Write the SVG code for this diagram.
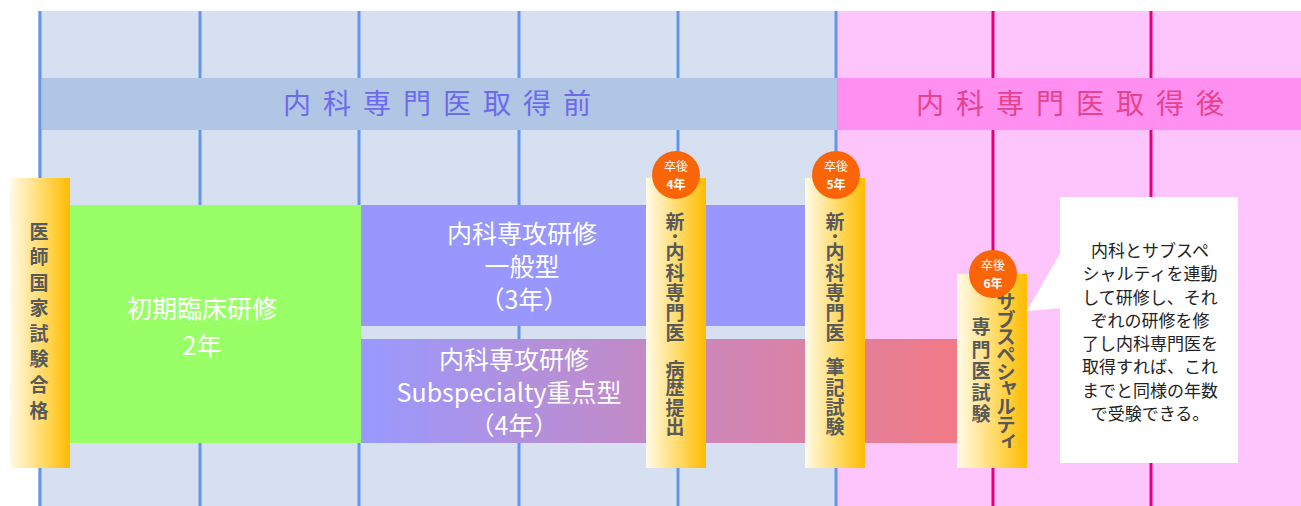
<svg xmlns="http://www.w3.org/2000/svg" width="1301" height="506" viewBox="0 0 1301 506">
<style>
.jp{font-family:"Noto Sans CJK JP","Noto Sans",sans-serif}
.band{font-size:28px;letter-spacing:12px;text-anchor:middle}
.box{fill:#fff;font-size:25px;text-anchor:middle}
.pil{fill:#595959;font-size:19px;font-weight:bold;text-anchor:middle}
.badge{fill:#fff;font-size:12px;text-anchor:middle}
.call{fill:#222;font-size:17px;text-anchor:middle}
.bl{stroke:#6495ed;stroke-width:3}
.pl{stroke:#e4007f;stroke-width:3}
</style>
<defs>
<linearGradient id="gold" x1="0" y1="0" x2="1" y2="0">
<stop offset="0" stop-color="#fffbe8"/>
<stop offset="0.6" stop-color="#ffd75a"/>
<stop offset="1" stop-color="#ffbc00"/>
</linearGradient>
<linearGradient id="sub" gradientUnits="userSpaceOnUse" x1="361" y1="0" x2="957" y2="0">
<stop offset="0" stop-color="#9999ff"/>
<stop offset="1" stop-color="#f27a86"/>
</linearGradient>
</defs>
<rect width="1301" height="506" fill="#fff"/>
<g id="background">
<rect x="38" y="11" width="799" height="495" fill="#d6e0f1"/>
<rect x="837" y="11" width="464" height="495" fill="#fdc5fb"/>
<line class="bl" x1="40" y1="11" x2="40" y2="506"/>
<line class="bl" x1="200" y1="11" x2="200" y2="506"/>
<line class="bl" x1="359" y1="11" x2="359" y2="506"/>
<line class="bl" x1="519" y1="11" x2="519" y2="506"/>
<line class="bl" x1="678" y1="11" x2="678" y2="506"/>
<line class="bl" x1="836" y1="11" x2="836" y2="506"/>
<line class="pl" x1="993" y1="11" x2="993" y2="506"/>
<line class="pl" x1="1151" y1="11" x2="1151" y2="506"/>
</g>
<g id="band-before">
<rect x="42" y="78" width="795" height="52" fill="#b1c5e5"/>
<text class="jp band" x="443" y="114" fill="#6b6bec">内科専門医取得前</text>
</g>
<g id="band-after">
<rect x="838" y="78" width="463" height="52" fill="#ff8ff0"/>
<text class="jp band" x="1076" y="114" fill="#e6438f">内科専門医取得後</text>
</g>
<g id="initial">
<rect x="70" y="205" width="291" height="238" fill="#99ff66"/>
<text class="jp box" x="202" y="318" font-size="29">初期臨床研修</text>
<text class="jp box" x="202" y="355" font-size="27">2年</text>
</g>
<g id="general">
<rect x="361" y="205" width="446" height="121" fill="#9797fd"/>
<text class="jp box" x="522" y="243">内科専攻研修</text>
<text class="jp box" x="522" y="276">一般型</text>
<text class="jp box" x="524" y="309" font-size="24">（3年）</text>
</g>
<g id="subspecialty">
<rect x="361" y="339" width="596" height="104" fill="url(#sub)"/>
<text class="jp box" x="514" y="369">内科専攻研修</text>
<text class="jp box" x="509" y="402" font-size="24">Subspecialty重点型</text>
<text class="jp box" x="514" y="435" font-size="24">（4年）</text>
</g>
<g id="pillar-license">
<rect x="10" y="178" width="60" height="290" fill="url(#gold)"/>
<text class="jp pil"><tspan x="39" y="239">医</tspan><tspan x="39" y="264">師</tspan><tspan x="39" y="290">国</tspan><tspan x="39" y="315">家</tspan><tspan x="39" y="341">試</tspan><tspan x="39" y="366">験</tspan><tspan x="39" y="392">合</tspan><tspan x="39" y="418">格</tspan></text>
</g>
<g id="pillar-4">
<rect x="646" y="178" width="60" height="290" fill="url(#gold)"/>
<text class="jp pil"><tspan x="675" y="229">新</tspan><tspan x="675" y="244">･</tspan><tspan x="675" y="259">内</tspan><tspan x="675" y="280">科</tspan><tspan x="675" y="300">専</tspan><tspan x="675" y="320">門</tspan><tspan x="675" y="340">医</tspan><tspan x="675" y="377">病</tspan><tspan x="675" y="395">歴</tspan><tspan x="675" y="415">提</tspan><tspan x="675" y="434">出</tspan></text>
<circle cx="676" cy="175" r="24" fill="#fa6508"/>
<text class="jp badge" x="676" y="171">卒後</text>
<text class="jp badge" x="676" y="189" font-weight="bold">4年</text>
</g>
<g id="pillar-5">
<rect x="805" y="178" width="60" height="290" fill="url(#gold)"/>
<text class="jp pil"><tspan x="835" y="229">新</tspan><tspan x="835" y="244">･</tspan><tspan x="835" y="259">内</tspan><tspan x="835" y="280">科</tspan><tspan x="835" y="300">専</tspan><tspan x="835" y="320">門</tspan><tspan x="835" y="340">医</tspan><tspan x="835" y="374">筆</tspan><tspan x="835" y="395">記</tspan><tspan x="835" y="415">試</tspan><tspan x="835" y="434">験</tspan></text>
<circle cx="836" cy="175" r="24" fill="#fa6508"/>
<text class="jp badge" x="836" y="171">卒後</text>
<text class="jp badge" x="836" y="189" font-weight="bold">5年</text>
</g>
<g id="pillar-6">
<rect x="957" y="274" width="70" height="194" fill="url(#gold)"/>
<text class="jp pil" font-size="18" font-weight="normal"><tspan x="1006" y="309">サ</tspan><tspan x="1006" y="327">ブ</tspan><tspan x="1006" y="344">ス</tspan><tspan x="1006" y="362">ペ</tspan><tspan x="1006" y="379">シ</tspan><tspan x="1009" y="393">ャ</tspan><tspan x="1006" y="414">ル</tspan><tspan x="1006" y="432">テ</tspan><tspan x="1009" y="446">ィ</tspan></text>
<text class="jp pil" font-size="20"><tspan x="981" y="334">専</tspan><tspan x="981" y="357">門</tspan><tspan x="981" y="378">医</tspan><tspan x="981" y="400">試</tspan><tspan x="981" y="421">験</tspan></text>
<circle cx="993" cy="274" r="24" fill="#fa6508"/>
<text class="jp badge" x="993" y="270">卒後</text>
<text class="jp badge" x="993" y="288" font-weight="bold">6年</text>
</g>
<g id="callout">
<polygon points="1062,250 1027,311 1062,308" fill="#fff"/>
<rect x="1060" y="197" width="178" height="266" fill="#fff"/>
<text class="jp call"><tspan x="1150" y="257">内科とサブスペ</tspan><tspan x="1150" y="280">シャルティを連動</tspan><tspan x="1150" y="304">して研修し、それ</tspan><tspan x="1150" y="327">ぞれの研修を修</tspan><tspan x="1150" y="350">了し内科専門医を</tspan><tspan x="1150" y="373">取得すれば、これ</tspan><tspan x="1150" y="397">までと同様の年数</tspan><tspan x="1150" y="420">で受験できる。</tspan></text>
</g>
</svg>
